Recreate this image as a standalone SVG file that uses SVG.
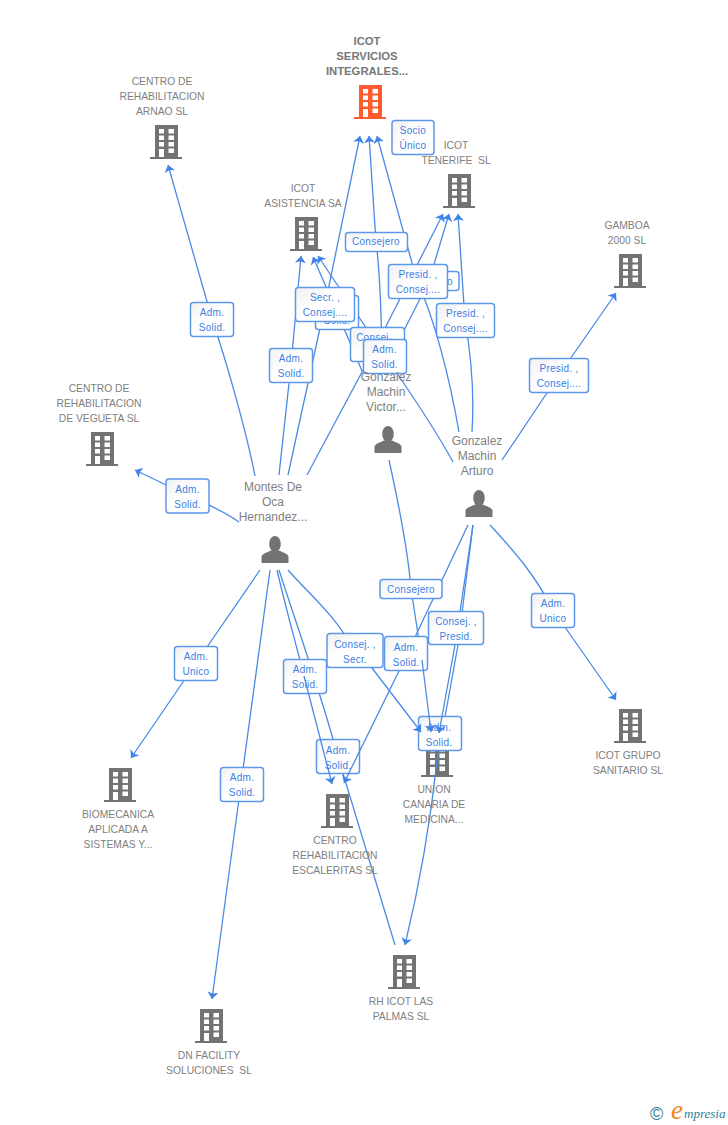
<svg xmlns="http://www.w3.org/2000/svg" xmlns:xlink="http://www.w3.org/1999/xlink" width="728" height="1125" viewBox="0 0 728 1125">
<style>
.n{font:10.3px "Liberation Sans",Arial,sans-serif;fill:#808080;text-anchor:middle;white-space:pre}
.p{font:12px "Liberation Sans",Arial,sans-serif;fill:#808080;text-anchor:middle}
.b{font:bold 11.3px "Liberation Sans",Arial,sans-serif;fill:#777;text-anchor:middle}
.e{fill:none;stroke:#4a8ae6;stroke-width:1.3}
.a{marker-end:url(#ah)}
.l rect{fill:url(#bg);stroke:#5c97ea;stroke-width:1.5}
.l text{font:10px "Liberation Sans",Arial,sans-serif;fill:#3b80e4;text-anchor:middle;letter-spacing:.25px}
</style>
<defs>
<linearGradient id="bg" x1="0" y1="0" x2="1" y2="1"><stop offset="0" stop-color="#f1f1f1"/><stop offset=".45" stop-color="#fff"/></linearGradient>
<marker id="ah" markerUnits="userSpaceOnUse" markerWidth="8" markerHeight="12" refX="7" refY="6" orient="auto"><path d="M7,6 L0,0.500 L1.800,6 L0,11.500Z" fill="#3f83e6"/></marker>
<g id="bld"><path fill-rule="evenodd" d="M5,0H28V32H32V34H0V32H5ZM9,4V8.500H14V4ZM18.500,4V8.500H24V4ZM9,10.500V15H14V10.500ZM18.500,10.500V15H24V10.500ZM9,17V21.500H14V17ZM18.500,17V21.500H24V17ZM9,24V32H14V24ZM18.500,23.500V28H24V23.500Z"/></g>
<g id="per"><ellipse cx="0" cy="8" rx="5.8" ry="8"/><path d="M-13.500,27V21C-13.500,18 -9,17 -4,14.500H4C9,17 13.500,18 13.500,21V27Z"/></g>
</defs>
<rect width="728" height="1125" fill="#fff"/>
<g id="connectors">
<path class="e a" d="M255,476C246,430 226,360 212,319L168,165"/>
<path class="e a" d="M239,522C222,510 205,503 187,495L135,470"/>
<path class="e a" d="M279,475L291,365L301,256"/>
<path class="e a" d="M288,475L325,305L360,136"/>
<path class="e a" d="M307,475L377,344L443,214"/>
<path class="e a" d="M362,371L337,312L313,257"/>
<path class="e a" d="M453,462C430,420 405,385 385,356L318,256"/>
<path class="e a" d="M382,370C382,330 380,270 376,242L369,136"/>
<path class="e a" d="M385,368L429,281L449,214"/>
<path class="e a" d="M459,432C450,380 435,320 417,281L377,136"/>
<path class="e a" d="M472,432C474,400 472,360 465,321L458,214"/>
<path class="e a" d="M502,460L559,375L616,293"/>
<path class="e a" d="M490,525C515,552 535,575 553,610L616,700"/>
<path class="e" d="M473,525L455,645"/>
<path class="e" d="M473,525L458,645L445,717L438,752"/>
<path class="e" d="M468,525L399,671"/>
<path class="e" d="M389,460C400,510 408,550 411,589L422,660"/>
<path class="e" d="M288,570C310,595 335,615 354,650L372,668"/>
<path class="e a" d="M270,570L241,784L212,999"/>
<path class="e a" d="M260,570L196,663L131,758"/>
<path class="e" d="M277,570C285,605 295,640 304,676"/>
<path class="e" d="M279,570C295,620 320,690 338,757L395,945"/>
</g>
<g id="label-boxes" class="l">
<g><rect x="190.500" y="302.500" width="43" height="34" rx="3"/><text x="212" y="316">Adm.</text><text x="212" y="331">Solid.</text></g>
<g><rect x="166" y="479" width="43" height="34" rx="3"/><text x="187.500" y="493">Adm.</text><text x="187.500" y="508">Solid.</text></g>
<g><rect x="392" y="120.500" width="42" height="34" rx="3"/><text x="413" y="134">Socio</text><text x="413" y="149">Único</text></g>
<g><rect x="269.500" y="348.500" width="43" height="34" rx="3"/><text x="291" y="362">Adm.</text><text x="291" y="377">Solid.</text></g>
<g><rect x="315.500" y="295.500" width="43" height="34" rx="3"/><text x="337" y="324">Solid.</text></g>
<g><rect x="295.500" y="287.500" width="59" height="34" rx="3"/><text x="325" y="301">Secr. ,</text><text x="325" y="316">Consej....</text></g>
<g><rect x="345.500" y="232.500" width="62" height="19" rx="3"/><text x="376" y="245">Consejero</text></g>
<g><rect x="398" y="271.500" width="61" height="19" rx="3"/><text x="429" y="285">Consejero</text></g>
<g><rect x="350.500" y="327.500" width="54" height="34" rx="3"/><text x="377" y="341">Consej. ,</text></g>
<g><rect x="363.500" y="339.500" width="43" height="34" rx="3"/><text x="384.500" y="353">Adm.</text><text x="384.500" y="368">Solid.</text></g>
<g><rect x="388.500" y="264.500" width="59" height="34" rx="3"/><text x="418" y="278">Presid. ,</text><text x="418" y="293">Consej....</text></g>
<g><rect x="436.500" y="303.500" width="58" height="34" rx="3"/><text x="465.500" y="317">Presid. ,</text><text x="465.500" y="332">Consej....</text></g>
<g><rect x="529.500" y="358.500" width="59" height="34" rx="3"/><text x="559" y="372">Presid. ,</text><text x="559" y="387">Consej....</text></g>
<g><rect x="531.500" y="593.500" width="43" height="34" rx="3"/><text x="553" y="607">Adm.</text><text x="553" y="622">Unico</text></g>
<g><rect x="174.500" y="646.500" width="43" height="34" rx="3"/><text x="196" y="660">Adm.</text><text x="196" y="675">Unico</text></g>
<g><rect x="220.500" y="767.500" width="43" height="34" rx="3"/><text x="242" y="781">Adm.</text><text x="242" y="796">Solid.</text></g>
<g><rect x="380" y="579.500" width="62" height="19" rx="3"/><text x="411" y="593">Consejero</text></g>
<g><rect x="428.500" y="611.500" width="55" height="33" rx="3"/><text x="456" y="625">Consej. ,</text><text x="456" y="640">Presid.</text></g>
<g><rect x="327" y="633.500" width="56" height="34" rx="3"/><text x="355" y="648">Consej. ,</text><text x="355" y="663">Secr.</text></g>
<g><rect x="384.500" y="636.500" width="43" height="34" rx="3"/><text x="406" y="651">Adm.</text><text x="406" y="666">Solid.</text></g>
<g><rect x="283.500" y="659.500" width="43" height="34" rx="3"/><text x="305" y="673">Adm.</text><text x="305" y="688">Solid.</text></g>
<g><rect x="316.500" y="739.500" width="43" height="34" rx="3"/><text x="338" y="754">Adm.</text><text x="338" y="769">Solid.</text></g>
</g>
<g id="n-union" fill="#737373"><use xlink:href="#bld" x="421" y="743"/><text class="n" x="434" y="793">UNION</text><text class="n" x="434" y="808">CANARIA DE</text><text class="n" x="434" y="823">MEDICINA...</text></g>
<g id="label-box-union" class="l"><rect x="418.500" y="716.500" width="43" height="34" rx="3"/><text x="439" y="731">Adm.</text><text x="439" y="746">Solid.</text></g>
<g id="connectors-over">
<path class="e a" d="M455,645L439,733"/>
<path class="e a" d="M422,660L431,732"/>
<path class="e a" d="M372,668L421,732"/>
<path class="e a" d="M438,751Q428,850 405,945"/>
<path class="e a" d="M304,676L332,784"/>
<path class="e a" d="M399,671L344,783"/>
</g>
<g id="n-icot" fill="#ff5b2f"><use xlink:href="#bld" x="354" y="85"/><text class="b" x="367" y="45">ICOT</text><text class="b" x="367" y="60">SERVICIOS</text><text class="b" x="367" y="75">INTEGRALES...</text></g>
<g id="n-arnao" fill="#737373"><use xlink:href="#bld" x="150" y="125"/><text class="n" x="162" y="85">CENTRO DE</text><text class="n" x="162" y="100">REHABILITACION</text><text class="n" x="162" y="115">ARNAO SL</text></g>
<g id="n-tenerife" fill="#737373"><use xlink:href="#bld" x="443" y="174"/><text class="n" x="456" y="149">ICOT</text><text class="n" x="456" y="164">TENERIFE  SL</text></g>
<g id="n-asistencia" fill="#737373"><use xlink:href="#bld" x="290" y="217"/><text class="n" x="303" y="192">ICOT</text><text class="n" x="303" y="207">ASISTENCIA SA</text></g>
<g id="n-gamboa" fill="#737373"><use xlink:href="#bld" x="614" y="254"/><text class="n" x="627" y="229">GAMBOA</text><text class="n" x="627" y="244">2000 SL</text></g>
<g id="n-vegueta" fill="#737373"><use xlink:href="#bld" x="86" y="432"/><text class="n" x="99" y="392">CENTRO DE</text><text class="n" x="99" y="407">REHABILITACION</text><text class="n" x="99" y="422">DE VEGUETA SL</text></g>
<g id="n-biomecanica" fill="#737373"><use xlink:href="#bld" x="104" y="768"/><text class="n" x="118" y="818">BIOMECANICA</text><text class="n" x="118" y="833">APLICADA A</text><text class="n" x="118" y="848">SISTEMAS Y...</text></g>
<g id="n-escaleritas" fill="#737373"><use xlink:href="#bld" x="321" y="794"/><text class="n" x="335" y="844">CENTRO</text><text class="n" x="335" y="859">REHABILITACION</text><text class="n" x="335" y="874">ESCALERITAS SL</text></g>
<g id="n-grupo" fill="#737373"><use xlink:href="#bld" x="614" y="709"/><text class="n" x="628" y="759">ICOT GRUPO</text><text class="n" x="628" y="774">SANITARIO SL</text></g>
<g id="n-rh" fill="#737373"><use xlink:href="#bld" x="388" y="955"/><text class="n" x="401" y="1005">RH ICOT LAS</text><text class="n" x="401" y="1020">PALMAS SL</text></g>
<g id="n-dn" fill="#737373"><use xlink:href="#bld" x="195" y="1009"/><text class="n" x="209" y="1059">DN FACILITY</text><text class="n" x="209" y="1074">SOLUCIONES  SL</text></g>
<g id="n-montes" fill="#737373"><use xlink:href="#per" x="275" y="536"/><text class="p" x="273" y="491">Montes De</text><text class="p" x="273" y="506">Oca</text><text class="p" x="273" y="521">Hernandez...</text></g>
<g id="n-victor" fill="#737373"><use xlink:href="#per" x="388" y="426"/><text class="p" x="386" y="381">Gonzalez</text><text class="p" x="386" y="396">Machin</text><text class="p" x="386" y="411">Victor...</text></g>
<g id="n-arturo" fill="#737373"><use xlink:href="#per" x="479" y="490"/><text class="p" x="477" y="445">Gonzalez</text><text class="p" x="477" y="460">Machin</text><text class="p" x="477" y="475">Arturo</text></g>
<g id="logo"><text x="650" y="1120" font-family="'Liberation Sans',sans-serif" font-size="18" fill="#2f7d97">©</text><text x="671" y="1119" font-family="'Liberation Serif',serif" font-style="italic" font-size="27" fill="#f5831f">e</text><text x="684" y="1118" font-family="'Liberation Serif',serif" font-style="italic" font-size="13" fill="#2f7d97">mpresia</text></g>
</svg>
